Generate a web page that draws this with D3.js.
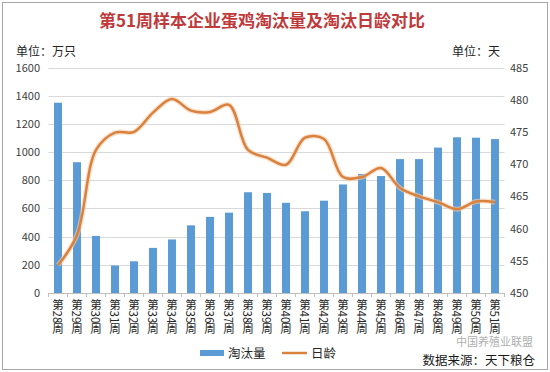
<!DOCTYPE html>
<html>
  <head>
    <meta charset="utf-8">
    <style>
      html,
      body { margin: 0; background: #fff; }
      svg { display: block; font-family: "Noto Sans CJK SC", "Noto Sans", sans-serif; }
    </style>
    <script src="https://d3js.org/d3.v7.js"></script>
  </head>
  <body>
    <svg class="chart"></svg>

    <script>
      const width = 550;
      const height = 372;

      // data
      const weeks = ['第28周', '第29周', '第30周', '第31周', '第32周', '第33周', '第34周', '第35周',
        '第36周', '第37周', '第38周', '第39周', '第40周', '第41周', '第42周', '第43周',
        '第44周', '第45周', '第46周', '第47周', '第48周', '第49周', '第50周', '第51周'];
      const culled = [1350, 928, 405, 195, 225, 320, 380, 480, 540, 570, 715, 710,
        640, 580, 655, 770, 845, 830, 950, 950, 1032, 1105, 1102, 1092];
      const ageDays = [454.3, 459, 472.2, 474.9, 475, 478, 480.1, 478.3, 478.1, 479.2, 472.2, 471,
        469.9, 474.1, 473.9, 468, 468, 469.4, 466.3, 465, 464.1, 463, 464.2, 464.1];
      const leftTicks = [0, 200, 400, 600, 800, 1000, 1200, 1400, 1600];
      const rightTicks = [450, 455, 460, 465, 470, 475, 480, 485];

      const margin = { top: 67.5, left: 48.5, right: 45.5, bottom: 79 };
      const plotBottom = height - margin.bottom;
      const plotRight = width - margin.right;

      const svg = d3.select('svg')
        .attr('width', width)
        .attr('height', height);

      // outer frame
      svg.append('rect')
        .attr('x', 2.5).attr('y', 2.5)
        .attr('width', width - 5).attr('height', height - 5)
        .attr('fill', '#fff')
        .attr('stroke', '#a6a6a6');

      const x = d3.scaleBand()
        .domain(weeks)
        .range([margin.left, plotRight])
        .paddingInner(0.58)
        .paddingOuter(0.29);

      const yLeft = d3.scaleLinear().domain([0, 1600]).range([plotBottom, margin.top]);
      const yRight = d3.scaleLinear().domain([450, 485]).range([plotBottom, margin.top]);

      // grid
      svg.append('g')
        .selectAll('line')
        .data(leftTicks.slice(1))
        .join('line')
        .attr('x1', margin.left).attr('x2', plotRight)
        .attr('y1', (d) => Math.round(yLeft(d)) + 0.5)
        .attr('y2', (d) => Math.round(yLeft(d)) + 0.5)
        .attr('stroke', '#d9d9d9');

      // left axis labels
      svg.append('g')
        .selectAll('text')
        .data(leftTicks)
        .join('text')
        .attr('x', 40)
        .attr('y', (d) => yLeft(d) + 4)
        .attr('text-anchor', 'end')
        .attr('font-size', 11)
        .attr('fill', '#404040')
        .text((d) => d);

      // right axis labels
      svg.append('g')
        .selectAll('text')
        .data(rightTicks)
        .join('text')
        .attr('x', 510)
        .attr('y', (d) => yRight(d) + 4)
        .attr('font-size', 11)
        .attr('fill', '#404040')
        .text((d) => d);

      // bars
      svg.append('g')
        .selectAll('rect')
        .data(weeks)
        .join('rect')
        .attr('x', (d) => x(d))
        .attr('y', (d, i) => yLeft(culled[i]))
        .attr('width', x.bandwidth())
        .attr('height', (d, i) => plotBottom - yLeft(culled[i]))
        .attr('fill', '#5b9bd5');

      // x axis line + ticks
      svg.append('line')
        .attr('x1', margin.left).attr('x2', plotRight)
        .attr('y1', plotBottom + 0.5).attr('y2', plotBottom + 0.5)
        .attr('stroke', '#bfbfbf');

      const step = x.step();
      svg.append('g')
        .selectAll('line')
        .data(d3.range(weeks.length + 1))
        .join('line')
        .attr('x1', (i) => margin.left + i * step)
        .attr('x2', (i) => margin.left + i * step)
        .attr('y1', plotBottom).attr('y2', plotBottom + 4)
        .attr('stroke', '#bfbfbf');

      // vertical category labels
      svg.append('g')
        .selectAll('text')
        .data(weeks)
        .join('text')
        .attr('x', (d) => x(d) + x.bandwidth() / 2)
        .attr('y', plotBottom + 6)
        .style('writing-mode', 'vertical-rl')
        .attr('font-size', 11.5)
        .attr('fill', '#262626')
        .text((d) => d);

      // smoothed age line
      const line = d3.line()
        .x((d, i) => x(weeks[i]) + x.bandwidth() / 2)
        .y((d) => yRight(d))
        .curve(d3.curveCatmullRom.alpha(0.5));

      svg.append('path')
        .datum(ageDays)
        .attr('d', line)
        .attr('fill', 'none')
        .attr('stroke', '#f8cba6')
        .attr('stroke-width', 5)
        .attr('stroke-opacity', 0.6);

      svg.append('path')
        .datum(ageDays)
        .attr('d', line)
        .attr('fill', 'none')
        .attr('stroke', '#d9823f')
        .attr('stroke-width', 2.5);

      // title and units
      svg.append('text')
        .attr('x', 262).attr('y', 27)
        .attr('text-anchor', 'middle')
        .attr('font-size', 17)
        .attr('font-weight', 'bold')
        .attr('fill', '#c0393b')
        .text('第51周样本企业蛋鸡淘汰量及淘汰日龄对比');

      svg.append('text')
        .attr('x', 16).attr('y', 56)
        .attr('font-size', 12)
        .attr('fill', '#262626')
        .text('单位：万只');

      svg.append('text')
        .attr('x', 500).attr('y', 56)
        .attr('text-anchor', 'end')
        .attr('font-size', 12)
        .attr('fill', '#262626')
        .text('单位：天');

      // legend
      const legend = svg.append('g');
      legend.append('rect')
        .attr('x', 200).attr('y', 350)
        .attr('width', 24).attr('height', 6)
        .attr('fill', '#5b9bd5');
      legend.append('text')
        .attr('x', 228).attr('y', 358)
        .attr('font-size', 12.5)
        .attr('fill', '#262626')
        .text('淘汰量');
      legend.append('line')
        .attr('x1', 282).attr('x2', 307)
        .attr('y1', 353).attr('y2', 353)
        .attr('stroke', '#d9823f')
        .attr('stroke-width', 2.5);
      legend.append('text')
        .attr('x', 311).attr('y', 358)
        .attr('font-size', 12.5)
        .attr('fill', '#262626')
        .text('日龄');

      // watermark and source
      svg.append('text')
        .attr('x', 533).attr('y', 346)
        .attr('text-anchor', 'end')
        .attr('font-size', 11)
        .attr('fill', '#b0b0b0')
        .text('中国养殖业联盟');

      svg.append('text')
        .attr('x', 535).attr('y', 365)
        .attr('text-anchor', 'end')
        .attr('font-size', 12.5)
        .attr('fill', '#1a1a1a')
        .text('数据来源：天下粮仓');
    </script>
  </body>
</html>
